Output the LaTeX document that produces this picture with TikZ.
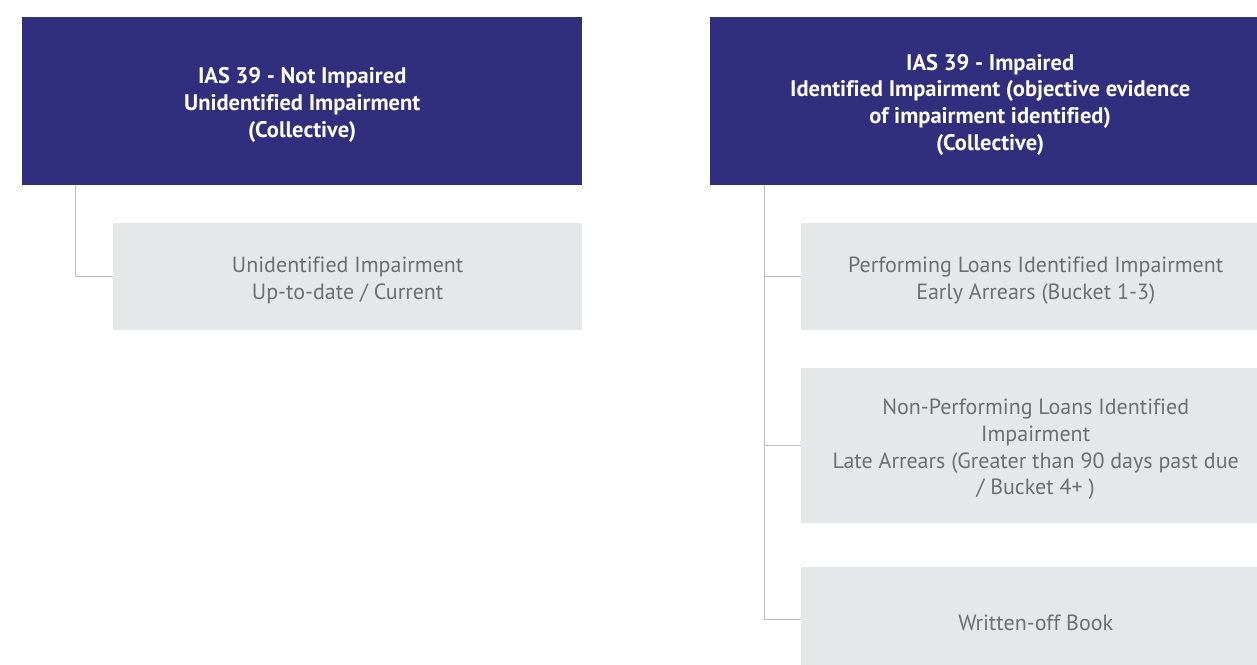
\documentclass[tikz,border=0pt]{standalone}
\usepackage{fontspec}
\setmainfont[Ligatures=NoCommon]{PT Sans}
\definecolor{navy}{HTML}{312E7E}
\definecolor{boxgray}{HTML}{E6E7E8}
\definecolor{txtgray}{HTML}{6D6E71}
\definecolor{linegray}{HTML}{BCBEC0}
\newcommand\topstrut{\rule{0pt}{23pt}}
\begin{document}
\begin{tikzpicture}[x=1pt,y=-1pt,
  head/.style={fill=navy,text=white,font=\fontsize{22.5}{26.8}\selectfont\bfseries,align=center,inner sep=0pt,anchor=north west},
  child/.style={fill=boxgray,text=txtgray,font=\fontsize{22}{26.8}\selectfont,align=center,inner sep=0pt,anchor=north west},
  conn/.style={draw=linegray,line width=1pt}]
\useasboundingbox (0,0) rectangle (1257,664);
\clip (0,0) rectangle (1257,664);
\node[head,minimum width=560pt,minimum height=168pt] (h1) at (22,17)
  {\topstrut IAS 39 - Not Impaired\\Unidentified Impairment\\(Collective)};
\node[head,minimum width=560pt,minimum height=168pt] (h2) at (710,17)
  {\topstrut IAS 39 - Impaired\\Identified Impairment (objective evidence\\of impairment identified)\\(Collective)};
\node[child,minimum width=469pt,minimum height=107pt] (a1) at (113,223)
  {\topstrut Unidentified Impairment\\Up-to-date / Current};
\node[child,minimum width=469pt,minimum height=107pt] (b1) at (801,223)
  {\topstrut Performing Loans Identified Impairment\\Early Arrears (Bucket 1-3)};
\node[child,minimum width=469pt,minimum height=155pt] (b2) at (801,368)
  {\topstrut Non-Performing Loans Identified\\Impairment\\Late Arrears (Greater than 90 days past due\\/ Bucket 4+ )};
\node[child,minimum width=469pt,minimum height=104pt] (b3) at (801,567)
  {\topstrut Written-off Book};
\coordinate (t1) at ([xshift=53pt]h1.south west);
\coordinate (t2) at ([xshift=54pt]h2.south west);
\draw[conn] (t1) |- (a1.west);
\draw[conn] (t2) |- (b3.west);
\draw[conn] (b1.west) -- (b1.west -| t2);
\draw[conn] (b2.west) -- (b2.west -| t2);
\end{tikzpicture}
\end{document}
